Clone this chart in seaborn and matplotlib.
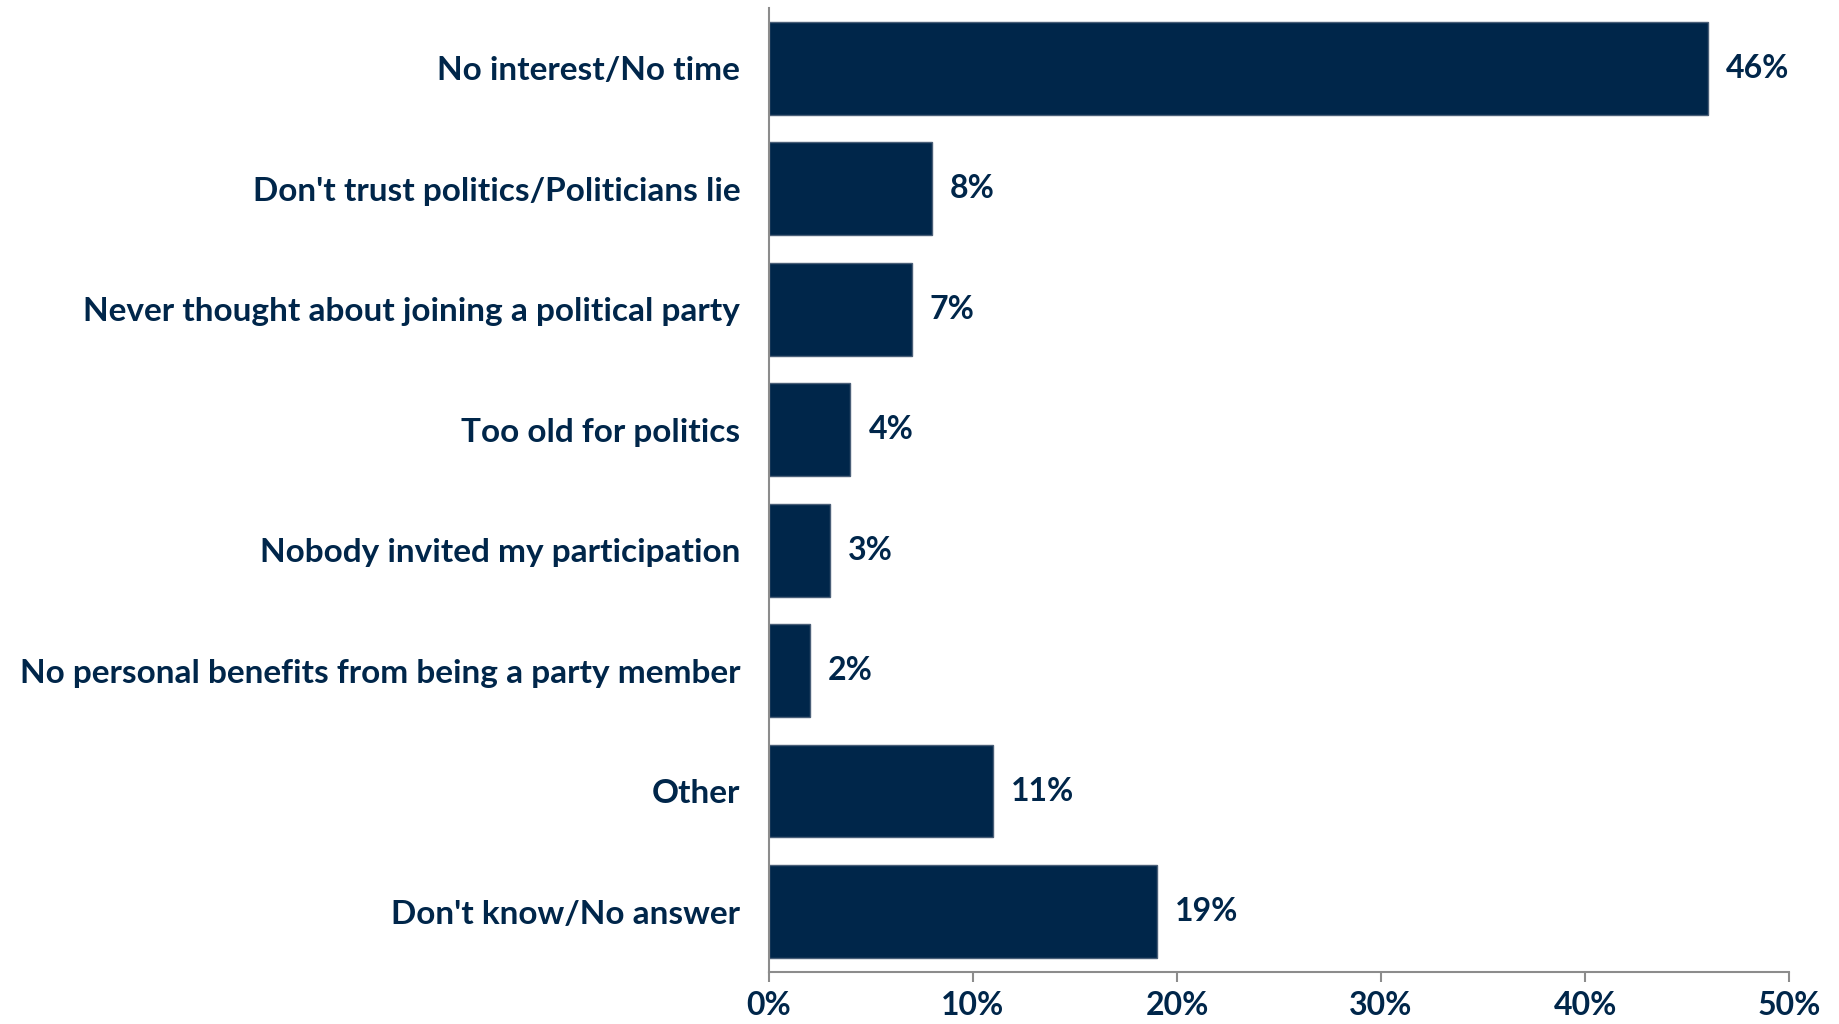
import pandas as pd
import matplotlib.pyplot as plt
import seaborn as sns
from matplotlib.ticker import PercentFormatter

# ─── Data ──────────────────────────────────────────────────────
reasons = [
    "No interest/No time",
    "Don't trust politics/Politicians lie",
    "Never thought about joining a political party",
    "Too old for politics",
    "Nobody invited my participation",
    "No personal benefits from being a party member",
    "Other",
    "Don't know/No answer",
]
shares = [46, 8, 7, 4, 3, 2, 11, 19]

df = pd.DataFrame({"reason": reasons, "share": shares})

navy = "#00264A"
grey = "#8C8C8C"

sns.set_style("white")
plt.rcParams["font.family"] = ["Lato", "DejaVu Sans"]

fig = plt.figure(figsize=(18.39, 10.24), dpi=100)
ax = fig.add_axes([0.418, 0.051, 0.555, 0.941])

sns.barplot(data=df, x="share", y="reason", orient="h", color=navy,
            width=0.77, edgecolor="#4A5F78", linewidth=1, saturation=1, ax=ax)

for cont in ax.containers:
    ax.bar_label(cont, labels=[f"{v}%" for v in shares], padding=13,
                 fontsize=23, fontweight="bold", color=navy)

ax.set_xlim(0, 50)
ax.set_ylim(7.5, -0.5)
ax.set_xticks(range(0, 51, 10))
ax.xaxis.set_major_formatter(PercentFormatter(decimals=0))
ax.set_xlabel("")
ax.set_ylabel("")

for side in ["top", "right"]:
    ax.spines[side].set_visible(False)
for side in ["left", "bottom"]:
    ax.spines[side].set_color(grey)
    ax.spines[side].set_linewidth(1.5)

ax.tick_params(axis="x", bottom=True, direction="out", length=7, width=1.5,
               color=grey, pad=7, labelsize=23, labelcolor=navy)
ax.tick_params(axis="y", left=False, pad=17, labelsize=24, labelcolor=navy)
for lbl in ax.get_xticklabels() + ax.get_yticklabels():
    lbl.set_fontweight("bold")

fig.savefig("out.png", dpi=100)
